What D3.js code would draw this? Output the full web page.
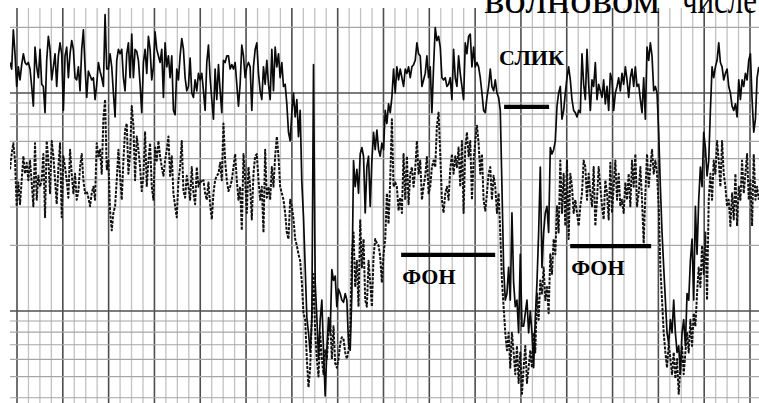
<!DOCTYPE html>
<html>
<head>
<meta charset="utf-8">
<script src="https://cdn.jsdelivr.net/npm/d3@7"></script>
<style>
  html, body { margin: 0; padding: 0; background: #fff; }
  svg { display: block; }
</style>
</head>
<body>
<svg id="chart" width="759" height="403"></svg>
<script>
// Two-channel recorder trace. Level is in dB (10·lg of the ratio), time in chart divisions.
const t0 = -0.61;   // time of the first sample, divisions
const dt = 0.1456;  // sample interval, divisions

// Upper channel (solid pen), dB
const channelSolid = [
  11.4, 11.1, 12.9, 11.8, 10.3, 11.2, 10.6, 11.3, 11.8, 11.4,
  11.3, 11.4, 11.1, 10.3, 9.4, 12.1, 11.2, 10.7, 12.0, 10.4,
  10.3, 9.1, 11.5, 12.6, 12.0, 10.6, 11.2, 11.8, 10.3, 11.7,
  12.3, 11.8, 9.2, 11.7, 12.1, 10.7, 11.8, 12.4, 12.0, 10.7,
  10.6, 11.2, 10.1, 12.0, 12.9, 11.2, 9.8, 11.0, 10.8, 10.6,
  10.7, 9.7, 10.4, 11.4, 11.0, 10.7, 10.3, 13.6, 11.1, 11.1,
  11.8, 11.2, 10.0, 8.9, 11.5, 12.0, 11.8, 12.0, 10.7, 10.1,
  11.8, 12.3, 10.7, 12.7, 10.7, 12.0, 11.9, 11.5, 10.4, 9.1,
  11.4, 12.0, 10.9, 12.6, 12.0, 10.6, 11.2, 12.8, 12.0, 11.7,
  11.4, 12.0, 9.8, 12.3, 11.2, 11.7, 10.7, 11.7, 9.2, 9.0,
  11.1, 10.6, 11.7, 12.5, 12.0, 10.7, 10.1, 10.3, 11.6, 10.0,
  9.8, 10.6, 10.1, 10.9, 10.6, 10.9, 10.1, 9.2, 11.4, 12.2,
  10.7, 9.7, 8.8, 11.1, 9.7, 11.3, 10.1, 9.1, 11.5, 11.4,
  11.7, 11.7, 11.1, 11.3, 11.1, 11.4, 10.4, 9.4, 10.4, 12.2,
  11.7, 10.7, 11.2, 11.4, 11.2, 9.2,
  11.2, 12.0, 12.3, 10.9, 10.1, 9.7, 11.2, 10.4, 11.5, 10.4,
  9.7, 12.0, 10.1, 12.1, 11.2, 11.8, 10.7, 11.4, 10.3, 10.4,
  9.5, 8.2, 7.8, 9.1, 10.0, 8.9, 9.7, 8.0, 9.2, 5.9,
  4.3, 2.0, -0.3, -1.0, -1.9, -0.4, 11.3, 1.3, -0.3, -2.2,
  -0.4, 0.5, -1.8, -3.9, -1.8, -0.3, -1.0, 1.9, 1.4, 1.6,
  0.2, 1.0, 0.8, 0.5, 0.4, 0.8, 0.5, -1.5, -1.8, 0.8,
  6.9, 5.7, 6.5, 5.4, 7.2, 7.5, 7.1, 4.5, 6.6, 7.1,
  4.8, 6.9, 8.2, 7.4, 8.3, 7.4, 7.1, 7.7, 7.4, 9.2,
  8.6, 9.5, 9.1, 9.8, 11.1, 10.0, 11.2, 10.6, 11.1, 10.7,
  10.3, 11.1, 10.9, 11.2, 10.7, 11.2, 11.3, 11.5, 12.3, 11.8,
  11.7, 10.3, 10.6, 10.9, 11.7, 10.7, 11.2, 9.1, 11.2, 13.0,
  12.4, 12.6, 12.1, 10.7, 10.6, 10.7, 10.3, 10.4, 10.7, 9.7,
  12.0, 10.7, 10.3, 11.7, 10.9, 10.3, 9.7, 12.3, 11.8, 12.6,
  12.7, 11.2, 12.1, 11.2, 11.4, 11.2, 10.7, 10.0, 9.2, 9.1,
  9.8, 10.3, 11.1, 10.3, 10.1, 10.6, 10.0, 9.8, 9.2, 5.7,
  2.0, 0.5,
  0.8, 2.0, 0.5, 4.5, 1.3, 0.2, 0.5, -1.0, 2.6, -0.7,
  -0.7, -0.1, 0.5, -1.0, 0.0, -1.0, -2.6, -0.3, 1.3, 3.6,
  6.6, 2.0, 3.6, 4.5, 4.8, 3.6, 7.5, 7.2, 7.4, 7.8,
  9.4, 10.0, 10.3, 8.8, 9.2, 10.0, 10.7, 11.2, 10.6, 9.7,
  9.2, 9.1, 8.9, 9.2, 9.1, 11.8, 10.4, 9.7, 12.0, 10.4,
  9.2, 10.6, 10.3, 11.4, 9.7, 10.4, 10.1, 9.8, 10.6, 9.5,
  10.3, 9.2, 10.9, 10.6, 9.2, 10.0, 10.3, 10.7, 10.1, 10.9,
  10.4, 11.2, 10.6, 9.8, 10.7, 11.1, 10.3, 11.2, 10.3, 10.4,
  9.7, 9.1, 10.7, 8.8, 12.1, 11.5, 12.3, 11.7, 10.1, 10.3,
  10.0, 8.2, 5.7, 3.6, 2.0, 0.5, -1.0, -1.5, -0.4, -1.0,
  0.5, -1.0, -1.9, -1.6, -2.9, -1.0, -0.4, -1.6, 0.8, 0.5,
  2.3, 3.3, 0.5, 4.8, 2.6, 5.1, 6.6, 5.7, 8.2, 7.5,
  6.2, 6.9, 9.2, 11.2, 10.7, 11.2, 11.5, 12.3, 11.4, 11.2,
  10.6, 10.9, 11.1, 10.3, 10.0, 9.4, 9.2, 9.5, 8.9, 10.6,
  9.7, 10.6, 10.3, 10.9, 10.6, 11.5, 11.8, 9.7, 8.2, 8.8,
  10.7, 11.2
];

// Lower channel (dashed pen), dB
const channelDashed = [
  6.5, 7.2, 7.7, 6.9, 4.8, 5.9, 4.9, 6.0, 7.1, 6.3,
  6.8, 6.0, 6.9, 5.9, 4.8, 7.7, 5.1, 6.2, 5.7, 6.0,
  7.2, 4.3, 7.8, 6.9, 5.4, 7.8, 7.1, 6.0, 4.9, 6.6,
  7.7, 4.3, 7.1, 6.6, 6.0, 5.2, 7.4, 6.3, 5.4, 6.3,
  5.1, 5.5, 6.6, 7.2, 6.0, 5.4, 5.5, 5.2, 4.8, 5.4,
  5.7, 5.1, 7.7, 7.1, 7.4, 6.3, 8.8, 9.7, 6.5, 6.9,
  4.6, 3.7, 4.5, 4.8, 6.0, 7.4, 6.2, 5.1, 6.9, 8.3,
  8.6, 6.3, 7.2, 9.4, 8.5, 6.0, 8.0, 7.4, 6.6, 5.5,
  6.2, 8.2, 5.7, 6.9, 7.7, 5.7, 5.1, 7.5, 6.9, 7.8,
  7.1, 6.6, 6.2, 6.9, 7.4, 8.0, 6.2, 7.1, 5.4, 4.8,
  4.3, 6.0, 6.6, 7.8, 5.5, 5.2, 6.2, 5.7, 5.1, 6.6,
  5.4, 4.9, 6.6, 5.7, 6.0, 5.9, 6.0, 5.4, 5.1, 5.9,
  4.9, 4.2, 5.4, 6.0, 6.2, 6.3, 6.8, 6.0, 8.6, 6.9,
  6.0, 5.5, 5.7, 6.0, 6.6, 7.2, 6.0, 5.1, 5.7, 3.7,
  7.2, 6.0, 4.5, 6.6, 5.7, 4.2,
  6.3, 7.1, 7.2, 6.0, 5.1, 5.7, 3.6, 7.4, 5.2, 5.7,
  5.1, 6.6, 5.7, 7.1, 8.0, 7.1, 5.7, 5.4, 5.1, 4.5,
  3.6, 3.3, 5.1, 4.8, 4.2, 3.3, 3.0, 2.6, 2.3, 1.3,
  -0.1, -0.4, -2.2, -3.5, -2.6, -0.3, 1.7, -1.0, -2.2, -3.0,
  -1.0, -2.2, -2.9, -1.8, -2.2, -1.0, -0.4, -2.2, -0.7, -2.4,
  -2.6, -2.2, -1.5, -1.2, -1.3, -1.9, -2.2, -1.8, -0.9, 2.6,
  3.6, 1.1, 2.3, 0.2, 4.2, 2.0, 3.3, 0.5, 0.2, 2.3,
  1.3, 0.2, 2.5, 3.3, 3.1, 3.0, 2.5, 1.3, 2.6, 3.3,
  5.4, 4.0, 6.0, 8.8, 5.7, 5.9, 5.7, 4.6, 5.2, 4.5,
  7.2, 5.1, 7.1, 4.9, 6.3, 6.6, 5.7, 6.5, 7.8, 6.3,
  6.9, 5.1, 5.7, 6.2, 7.1, 5.4, 5.7, 6.6, 6.9, 6.6,
  8.5, 9.1, 7.2, 5.1, 4.5, 5.4, 5.7, 5.1, 6.5, 7.2,
  6.3, 7.1, 6.6, 7.5, 5.7, 7.8, 4.5, 7.5, 8.2, 7.1,
  7.8, 5.1, 6.9, 7.8, 8.5, 7.7, 6.3, 7.2, 5.1, 4.6,
  5.4, 6.3, 6.6, 5.1, 6.2, 5.7, 4.5, 5.4, 3.6, 1.4,
  0.2, -1.0,
  -1.8, -1.0, -2.6, -1.0, -1.9, -2.9, -1.6, -3.3, -1.9, -3.8,
  -2.6, -1.6, -3.3, -2.6, -1.8, -2.6, -1.0, -1.9, 0.8, -0.4,
  1.4, 0.8, 2.0, 0.5, 1.1, -0.1, 2.6, 1.7, 3.3, 2.6,
  4.8, 3.6, 6.9, 4.5, 6.3, 3.9, 6.9, 3.3, 6.3, 5.7,
  4.5, 5.1, 4.5, 3.9, 4.8, 5.4, 6.9, 6.6, 5.1, 6.3,
  5.4, 4.8, 6.6, 3.9, 5.1, 6.6, 5.7, 4.8, 4.2, 6.0,
  5.4, 4.2, 6.8, 4.5, 5.7, 6.9, 5.1, 6.3, 4.8, 5.1,
  4.5, 5.9, 5.1, 6.3, 4.8, 6.9, 5.7, 7.2, 4.8, 5.4,
  6.6, 5.1, 3.1, 5.4, 7.2, 5.7, 6.6, 7.4, 6.3, 6.9,
  6.3, 4.8, 2.0, 0.5, -1.0, -1.9, -2.6, -1.5, -2.2, -2.9,
  -1.9, -3.1, -2.2, -3.8, -2.6, -1.6, -2.9, -1.9, -1.0, -1.9,
  -0.4, -1.6, -0.1, -0.7, 0.8, 2.0, 1.1, 3.0, 1.7, 3.6,
  0.5, 5.1, 6.3, 5.1, 6.9, 6.3, 7.8, 6.9, 5.7, 7.8,
  6.3, 5.7, 4.8, 5.1, 3.9, 5.4, 4.2, 6.3, 3.9, 5.7,
  5.1, 6.9, 5.4, 6.3, 7.2, 5.1, 6.0, 3.9, 7.2, 5.1,
  5.7, 5.1
];

// Chart paper: minor time divisions (every 4th is heavy) and log-ratio level lines
const timeDivisions = d3.range(0, 65);
const ratioLines = [0.4, 0.5, 0.6, 0.7, 0.8, 0.9, 1, 2, 3, 4, 5, 6, 7, 8, 9, 10, 20];
const heavyRatios = [1, 10];

// Marked intervals: time span (divisions) and level (dB) of each marker bar
const markerLabels = ["СЛИК", "ФОН", "ФОН"];
const markerFrom   = [42.53, 33.54, 48.30];
const markerTo     = [46.46, 41.75, 55.37];
const markerLevel  = [9.36, 2.57, 2.98];
const markerAbove  = [true, false, false];

const captionWords = ["волновом", "числе"];

// ---- layout ----
const W = 759, H = 403;
const plot = { left: 10, top: 8, right: W, bottom: H };

const x = d3.scaleLinear().domain([0, 64]).range([17, 750]);
const y = d3.scaleLinear().domain([0, 10]).range([311, 93]);
const toDb = r => 10 * Math.log10(r);

const svg = d3.select("#chart");
svg.append("rect").attr("width", W).attr("height", H).attr("fill", "#fff");

svg.append("defs").append("clipPath").attr("id", "plot-clip")
  .append("rect")
  .attr("x", plot.left).attr("y", plot.top)
  .attr("width", plot.right - plot.left).attr("height", plot.bottom - plot.top);

const grid = svg.append("g").attr("class", "grid");

// vertical (time) lines
grid.selectAll("line.v")
  .data(timeDivisions)
  .join("line")
  .attr("class", "v")
  .attr("x1", d => x(d)).attr("x2", d => x(d))
  .attr("y1", plot.top).attr("y2", plot.bottom)
  .attr("stroke", d => d % 4 === 0 ? "#4d4d4d" : "#c2c2c2")
  .attr("stroke-width", d => d % 4 === 0 ? 1.6 : 1.3);

// horizontal (level) lines
grid.selectAll("line.h")
  .data(ratioLines)
  .join("line")
  .attr("class", "h")
  .attr("x1", plot.left).attr("x2", plot.right)
  .attr("y1", d => y(toDb(d))).attr("y2", d => y(toDb(d)))
  .attr("stroke", d => heavyRatios.includes(d) ? "#505050" : "#a6a6a6")
  .attr("stroke-width", d => heavyRatios.includes(d) ? 1.6 : 1.1);

// traces
const line = d3.line()
  .x((d, i) => x(t0 + i * dt))
  .y(d => y(d))
  .curve(d3.curveLinear);

const traces = svg.append("g").attr("clip-path", "url(#plot-clip)");

traces.append("path")
  .datum(channelDashed)
  .attr("d", line)
  .attr("fill", "none")
  .attr("stroke", "#111")
  .attr("stroke-width", 2)
  .attr("stroke-dasharray", "3,1.3")
  .attr("stroke-linejoin", "round");

traces.append("path")
  .datum(channelSolid)
  .attr("d", line)
  .attr("fill", "none")
  .attr("stroke", "#0a0a0a")
  .attr("stroke-width", 1.7)
  .attr("stroke-linejoin", "round");

// marker bars and their labels
const markers = markerLabels.map((label, i) => ({
  label, from: markerFrom[i], to: markerTo[i], level: markerLevel[i], above: markerAbove[i]
}));

const mg = svg.append("g");
mg.selectAll("line")
  .data(markers)
  .join("line")
  .attr("x1", d => x(d.from)).attr("x2", d => x(d.to))
  .attr("y1", d => y(d.level)).attr("y2", d => y(d.level))
  .attr("stroke", "#000")
  .attr("stroke-width", 4.2);

mg.selectAll("text")
  .data(markers)
  .join("text")
  .attr("x", d => d.above ? x(d.from) - 5 : x(d.from) + 1)
  .attr("y", d => d.above ? y(d.level) - 42 : y(d.level) + 29)
  .attr("font-family", "'Liberation Serif', 'Times New Roman', serif")
  .attr("font-weight", "bold")
  .attr("font-size", 22)
  .attr("fill", "#000")
  .text(d => d.label);

// caption line running above the chart, its upper part beyond the page edge
const captionX = [484, 682];
const captionLen = [176, 75];
svg.append("g").selectAll("text")
  .data(captionWords)
  .join("text")
  .attr("x", (d, i) => captionX[i])
  .attr("y", 13)
  .attr("textLength", (d, i) => captionLen[i])
  .attr("lengthAdjust", "spacingAndGlyphs")
  .attr("font-family", "'Liberation Serif', 'Times New Roman', serif")
  .attr("font-size", 40)
  .attr("fill", "#000")
  .text(d => d);
</script>
</body>
</html>
